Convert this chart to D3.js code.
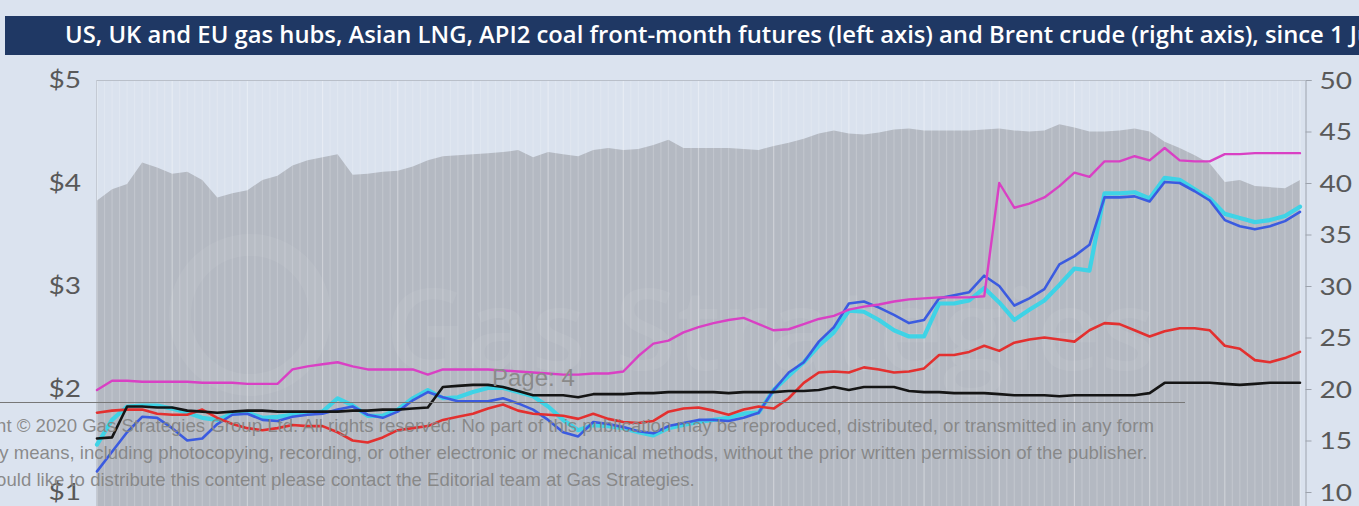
<!DOCTYPE html>
<html>
<head>
<meta charset="utf-8">
<script src="https://cdn.jsdelivr.net/npm/d3@7"></script>
<style>
  html, body { margin: 0; padding: 0; background: #dbe3ef; overflow: hidden; }
  svg { display: block; }
</style>
</head>
<body>
<svg id="chart" width="1359" height="506"></svg>
<script>
// Brent crude, $/bbl (right axis) - grey area
var brent = [38.3,39.4,39.9,42.0,41.5,40.9,41.1,40.3,38.6,39.0,
  39.3,40.3,40.7,41.7,42.2,42.5,42.8,40.8,40.9,41.1,
  41.2,41.6,42.2,42.6,42.7,42.8,42.9,43.0,43.2,42.5,
  43.0,42.8,42.6,43.2,43.4,43.2,43.3,43.7,44.2,43.4,
  43.4,43.4,43.4,43.3,43.2,43.6,43.9,44.3,44.8,45.1,
  44.8,44.7,44.9,45.2,45.3,45.1,45.1,45.1,45.1,45.2,
  45.3,45.1,45.0,45.1,45.7,45.4,45.0,45.0,45.1,45.3,
  45.0,44.0,43.4,42.7,41.9,40.1,40.3,39.7,39.6,39.5,40.3];

// Asian LNG, $/MMBtu (magenta)
var jkm = [1.99,2.08,2.08,2.07,2.07,2.07,2.07,2.06,2.06,2.06,
  2.05,2.05,2.05,2.19,2.22,2.24,2.26,2.22,2.19,2.19,
  2.19,2.19,2.14,2.19,2.19,2.19,2.19,2.18,2.17,2.16,
  2.15,2.14,2.14,2.15,2.15,2.17,2.32,2.44,2.47,2.55,
  2.60,2.64,2.67,2.69,2.63,2.57,2.58,2.63,2.68,2.71,
  2.77,2.80,2.82,2.85,2.87,2.88,2.89,2.89,2.89,2.90,
  4.00,3.76,3.80,3.86,3.97,4.10,4.06,4.21,4.21,4.26,
  4.22,4.34,4.22,4.21,4.21,4.28,4.28,4.29,4.29,4.29,4.29];

// UK NBP (blue)
var nbp = [1.20,1.39,1.58,1.73,1.72,1.62,1.50,1.52,1.66,1.75,
  1.76,1.70,1.69,1.73,1.75,1.76,1.80,1.83,1.75,1.72,
  1.78,1.89,1.97,1.92,1.88,1.88,1.88,1.91,1.86,1.80,
  1.70,1.58,1.54,1.68,1.66,1.63,1.59,1.57,1.64,1.67,
  1.70,1.70,1.69,1.72,1.77,1.99,2.16,2.26,2.46,2.60,
  2.83,2.85,2.79,2.72,2.64,2.67,2.88,2.91,2.94,3.10,
  3.00,2.81,2.88,2.97,3.21,3.29,3.40,3.86,3.86,3.87,
  3.82,4.01,4.00,3.92,3.83,3.64,3.58,3.55,3.58,3.63,3.72];

// EU TTF (cyan)
var ttf = [1.46,1.70,1.83,1.84,1.84,1.81,1.77,1.72,1.70,1.76,
  1.77,1.72,1.73,1.75,1.76,1.78,1.91,1.84,1.74,1.74,
  1.80,1.91,1.99,1.91,1.92,1.97,2.01,2.01,1.97,1.93,
  1.83,1.70,1.60,1.65,1.64,1.62,1.58,1.55,1.62,1.65,
  1.68,1.70,1.72,1.76,1.77,1.99,2.13,2.26,2.42,2.55,
  2.76,2.75,2.67,2.57,2.51,2.51,2.83,2.83,2.86,2.98,
  2.84,2.67,2.77,2.86,3.01,3.17,3.15,3.90,3.90,3.91,
  3.85,4.05,4.03,3.94,3.85,3.70,3.66,3.62,3.64,3.68,3.77];

// API2 coal (red)
var api2 = [1.77,1.79,1.80,1.80,1.76,1.75,1.75,1.80,1.72,1.66,
  1.62,1.60,1.62,1.65,1.64,1.64,1.58,1.50,1.48,1.53,
  1.60,1.62,1.64,1.70,1.73,1.76,1.81,1.85,1.79,1.76,
  1.75,1.74,1.71,1.76,1.71,1.68,1.67,1.69,1.78,1.81,
  1.82,1.79,1.75,1.80,1.83,1.81,1.91,2.06,2.16,2.17,
  2.16,2.21,2.19,2.16,2.17,2.20,2.33,2.33,2.36,2.42,
  2.37,2.45,2.48,2.50,2.48,2.46,2.57,2.64,2.63,2.57,
  2.51,2.56,2.59,2.59,2.57,2.42,2.39,2.28,2.26,2.30,2.36];

// US Henry Hub (black)
var hh = [1.52,1.53,1.83,1.83,1.82,1.82,1.79,1.78,1.77,1.78,
  1.79,1.79,1.78,1.78,1.78,1.78,1.78,1.79,1.79,1.80,
  1.80,1.81,1.82,2.02,2.03,2.04,2.04,2.02,1.98,1.94,
  1.94,1.94,1.92,1.95,1.95,1.95,1.96,1.96,1.97,1.97,
  1.97,1.97,1.96,1.97,1.97,1.97,1.98,1.98,1.99,2.02,
  1.99,2.02,2.02,2.02,1.98,1.97,1.97,1.96,1.96,1.96,
  1.95,1.94,1.94,1.94,1.93,1.94,1.94,1.94,1.94,1.94,
  1.96,2.06,2.06,2.06,2.06,2.05,2.04,2.05,2.06,2.06,2.06];

var leftTicks = [1, 2, 3, 4, 5];
var rightTicks = [10, 15, 20, 25, 30, 35, 40, 45, 50];

var title = "US, UK and EU gas hubs, Asian LNG, API2 coal front-month futures (left axis) and Brent crude (right axis), since 1 June 2020";
var copyright = [
  "Copyright \u00a9 2020 Gas Strategies Group Ltd. All rights reserved. No part of this publication may be reproduced, distributed, or transmitted in any form",
  "or by any means, including photocopying, recording, or other electronic or mechanical methods, without the prior written permission of the publisher.",
  "If you would like to distribute this content please contact the Editorial team at Gas Strategies."
];

var svg = d3.select("#chart");
var pLeft = 96, pRight = 1305, pTop = 80, pBottom = 595;

var x = d3.scaleLinear().domain([0, brent.length - 1]).range([97, 1300]);
var yL = d3.scaleLinear().domain([0, 5]).range([pBottom, pTop]);
var yR = d3.scaleLinear().domain([0, 50]).range([pBottom, pTop]);

// title bar
svg.append("rect").attr("x", 5).attr("y", 16).attr("width", 1360).attr("height", 39)
  .attr("fill", "#1f3864");
var t = svg.append("text").attr("x", 65).attr("y", 43)
  .attr("fill", "#ffffff")
  .style("font-family", "'Open Sans', sans-serif")
  .style("font-weight", 600)
  .style("font-size", "19px")
  .text(title);
// fit so that "...since 1 Ju" ends at the right edge like the original
var cut = title.indexOf("une 2020");
var w = t.node().getSubStringLength(0, cut);
t.style("font-size", (19 * (1292 / w)).toFixed(2) + "px");

// plot background + day stripes
var plot = svg.append("g");
plot.append("rect").attr("x", pLeft).attr("y", pTop).attr("width", pRight - pLeft)
  .attr("height", pBottom - pTop).attr("fill", "#dae2ee");

var stripeX = d3.scaleLinear().domain([0, 160]).range([97, 1300]);
var stripes = d3.range(0, 161);

// brent area
var area = d3.area()
  .x(function (d, i) { return x(i); })
  .y0(pBottom)
  .y1(function (d) { return yR(d); });
plot.append("path").datum(brent).attr("d", area).attr("fill", "#b4b9c2");

plot.append("g").selectAll("line").data(stripes).enter().append("line")
  .attr("x1", function (d) { return stripeX(d); })
  .attr("x2", function (d) { return stripeX(d); })
  .attr("y1", pTop).attr("y2", pBottom)
  .attr("stroke", "#ffffff")
  .attr("stroke-opacity", function (d) { return d % 10 == 0 ? 0.35 : 0.18; })
  .attr("stroke-width", 1.2);

// faint watermark
var wm = plot.append("g").attr("opacity", 0.06);
wm.append("circle").attr("cx", 250).attr("cy", 315).attr("r", 70)
  .attr("fill", "none").attr("stroke", "#ffffff").attr("stroke-width", 22);
wm.append("text").attr("x", 385).attr("y", 370).attr("fill", "#ffffff")
  .style("font-family", "'Open Sans', sans-serif").style("font-weight", 600)
  .style("font-size", "112px").text("Gas Strategies");

// frame
plot.append("line").attr("x1", pLeft).attr("x2", pRight).attr("y1", pTop + 0.5).attr("y2", pTop + 0.5)
  .attr("stroke", "#b9bfc9");
plot.append("line").attr("x1", pLeft + 0.5).attr("x2", pLeft + 0.5).attr("y1", pTop).attr("y2", pBottom)
  .attr("stroke", "#c4cad4");

// series lines
var line = d3.line()
  .x(function (d, i) { return x(i); })
  .y(function (d) { return yL(d); });

var series = [
  { data: ttf, color: "#3fd3e6", width: 4.2 },
  { data: nbp, color: "#3b5be0", width: 2.6 },
  { data: api2, color: "#e3302f", width: 2.6 },
  { data: hh, color: "#151515", width: 2.6 },
  { data: jkm, color: "#d940c4", width: 2.4 }
];
plot.append("g").selectAll("path").data(series).enter().append("path")
  .attr("d", function (d) { return line(d.data); })
  .attr("fill", "none")
  .attr("stroke", function (d) { return d.color; })
  .attr("stroke-width", function (d) { return d.width; })
  .attr("stroke-linejoin", "round")
  .attr("stroke-linecap", "round");

// left axis labels (the source picture is stretched sideways, so widen the glyphs)
svg.append("g").selectAll("g").data(leftTicks).enter().append("g")
  .attr("transform", function (d) { return "translate(81," + yL(d) + ") scale(1.22,1)"; })
  .append("text")
  .attr("dy", "0.35em").attr("text-anchor", "end")
  .attr("fill", "#595959")
  .style("font-family", "Lato, sans-serif").style("font-size", "23px")
  .text(function (d) { return "$" + d; });

// right axis
var rAxis = d3.axisRight(yR).tickValues(rightTicks).tickSize(6).tickFormat("");
var ra = svg.append("g").attr("transform", "translate(" + (pRight + 0.5) + ",0)").call(rAxis);
ra.select(".domain").attr("stroke", "#9da3ad");
ra.selectAll(".tick line").attr("stroke", "#9da3ad");
ra.selectAll(".tick").append("text")
  .attr("transform", "translate(14,0) scale(1.22,1)")
  .attr("x", 0).attr("dy", "0.35em").attr("fill", "#595959")
  .style("font-family", "Lato, sans-serif").style("font-size", "23px")
  .text(function (d) { return d; });

// page overlay from the PDF viewer
var ov = svg.append("g");
ov.append("text").attr("x", 492).attr("y", 386).attr("fill", "#8a8a8a")
  .style("font-family", "'Liberation Sans', Arial, sans-serif").style("font-size", "24px")
  .text("Page: 4");
ov.append("line").attr("x1", 0).attr("x2", 1185).attr("y1", 402.5).attr("y2", 402.5)
  .attr("stroke", "#777").attr("stroke-width", 1);
ov.selectAll("text.cr").data(copyright).enter().append("text").attr("class", "cr")
  .attr("x", -68).attr("y", function (d, i) { return 432 + i * 27; })
  .attr("fill", "#858585").attr("fill-opacity", 0.95)
  .style("font-family", "'Liberation Sans', Arial, sans-serif").style("font-size", "18.6px")
  .text(function (d) { return d; });
</script>
</body>
</html>
